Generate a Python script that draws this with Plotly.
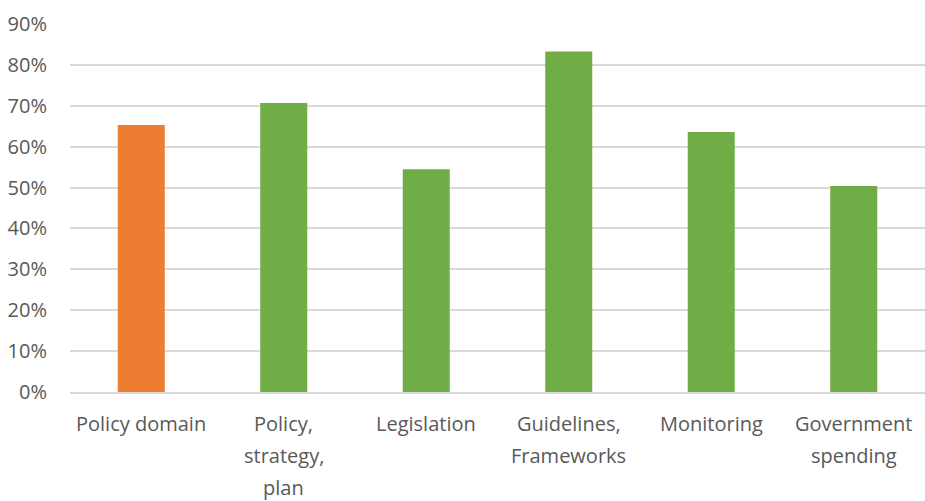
import plotly.graph_objects as go

categories = ["Policy domain", "Policy, strategy, plan", "Legislation",
              "Guidelines, Frameworks", "Monitoring", "Government spending"]
label_lines = [["Policy domain"], ["Policy,", "strategy,", "plan"], ["Legislation"],
               ["Guidelines,", "Frameworks"], ["Monitoring"], ["Government", "spending"]]
values = [0.653, 0.707, 0.545, 0.833, 0.636, 0.504]
colors = ["#ED7D31", "#70AD47", "#70AD47", "#70AD47", "#70AD47", "#70AD47"]
tick_vals = [i / 10 for i in range(10)]
tick_text = [f"{i * 10}%" for i in range(10)]

FONT = "Open Sans"
TEXT = "#595959"

fig = go.Figure(go.Bar(x=categories, y=values, marker=dict(color=colors, line=dict(width=0)),
                       width=0.33, hoverinfo="skip"))

# category labels, one annotation per wrapped line
annotations = []
for cat, lines in zip(categories, label_lines):
    for i, line in enumerate(lines):
        annotations.append(dict(x=cat, y=0, xref="x", yref="paper", text=line,
                                showarrow=False, xanchor="center", yanchor="middle",
                                yshift=-(31 + 32 * i),
                                font=dict(family=FONT, size=20, color=TEXT)))

fig.update_layout(
    width=925, height=501,
    margin=dict(l=70, r=0, t=24, b=109),
    paper_bgcolor="white", plot_bgcolor="white",
    showlegend=False,
    annotations=annotations,
    xaxis=dict(showticklabels=False, showgrid=False, zeroline=False,
               showline=True, linecolor="#D9D9D9", linewidth=1.5, ticks=""),
    yaxis=dict(range=[0, 0.9], tickvals=tick_vals, ticktext=tick_text,
               showgrid=True, gridcolor="#D9D9D9", gridwidth=1.5, zeroline=False,
               showline=False, ticks="", ticklabelstandoff=22,
               tickfont=dict(family=FONT, size=20, color=TEXT)),
)

fig.write_html("out.html")
